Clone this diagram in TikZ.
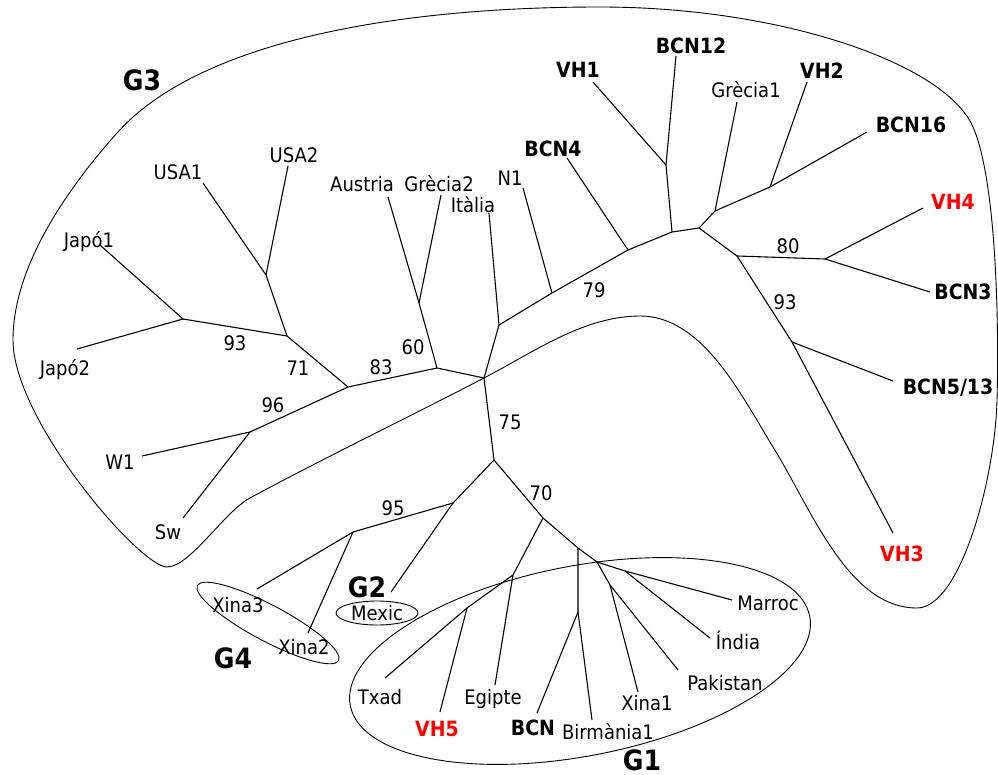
\documentclass[tikz,border=0pt]{standalone}
\usepackage{fontspec}
\setmainfont{DejaVu Sans Condensed}
\begin{document}
\begin{tikzpicture}[x=1pt,y=-1pt,
  br/.style={line width=1.1pt},
  hull/.style={line width=0.9pt},
  lab/.style={inner sep=0pt,font=\fontsize{20}{24}\selectfont,text height=14.5pt,text depth=0pt},
  blab/.style={inner sep=0pt,font=\fontsize{21}{25}\selectfont\bfseries,text height=15.3pt,text depth=0pt},
  rlab/.style={blab,text=red},
  glab/.style={inner sep=0pt,font=\fontsize{28}{32}\selectfont\bfseries,text height=20.4pt,text depth=0pt},
  num/.style={lab}]
\useasboundingbox (0,0) rectangle (998,775);
% ---- group outlines ----
\draw[hull] (484,378)
  .. controls (534,352) and (584,316) .. (640,316)
  .. controls (702,316) and (740,393) .. (773,447)
  .. controls (812,510) and (848,608) .. (917,608)
  .. controls (960,608) and (995,480) .. (997,400)
  .. controls (999,330) and (997,182) .. (973,127)
  .. controls (945,63) and (780,7) .. (600,7)
  .. controls (400,7) and (200,40) .. (117,133)
  .. controls (77,178) and (13,260) .. (13,340)
  .. controls (13,420) and (140,567) .. (167,567)
  .. controls (190,567) and (224,512) .. (250,498)
  .. controls (320,460) and (413,415) .. cycle;
\draw[hull,rotate around={11:(580,661)}] (580,661) ellipse [x radius=234,y radius=95];
\draw[hull,rotate around={-28:(268,623)}] (268,623) ellipse [x radius=80,y radius=18];
\draw[hull] (377,613) ellipse [x radius=41,y radius=12];
% ---- internal points and leaf ends ----
\coordinate (J) at (183,319); \coordinate (j1) at (100,245); \coordinate (j2) at (77,349);
\coordinate (US) at (266,275); \coordinate (u1) at (203,183); \coordinate (u2) at (288,166);
\coordinate (U) at (287,336); \coordinate (V) at (348,387);
\coordinate (M) at (250,432); \coordinate (w1) at (142,456); \coordinate (sw) at (183,518);
\coordinate (AG) at (419,303); \coordinate (A) at (437,368);
\coordinate (au) at (388,197); \coordinate (g2) at (441,195);
\coordinate (R) at (484,378);
\coordinate (IT) at (499,325); \coordinate (it) at (489,213);
\coordinate (P) at (552,293); \coordinate (n1) at (523,188);
\coordinate (Q) at (628,250); \coordinate (b4) at (567,158);
\coordinate (S) at (672,232); \coordinate (S2) at (666,165);
\coordinate (v1) at (593,82); \coordinate (b12) at (676,56);
\coordinate (T) at (699,228); \coordinate (U1) at (715,211); \coordinate (gr1) at (737,102);
\coordinate (W) at (770,187); \coordinate (v2) at (807,82); \coordinate (b16) at (867,132);
\coordinate (Y) at (737,256); \coordinate (Z) at (825,259);
\coordinate (v4) at (923,208); \coordinate (b3) at (930,292);
\coordinate (Z2) at (792,342); \coordinate (b5) at (893,381); \coordinate (v3) at (893,533);
\coordinate (B) at (494,460);
\coordinate (C) at (453,503); \coordinate (X) at (353,532);
\coordinate (x3) at (257,589); \coordinate (x2) at (308,633); \coordinate (mx) at (391,592);
\coordinate (D) at (543,518); \coordinate (E) at (513,575); \coordinate (H) at (467,608);
\coordinate (tx) at (385,678); \coordinate (v5) at (440,712); \coordinate (eg) at (495,685);
\coordinate (F) at (578,548); \coordinate (I) at (578,612);
\coordinate (bc) at (537,713); \coordinate (bi) at (592,720);
\coordinate (G) at (597,562); \coordinate (L) at (610,585);
\coordinate (x1) at (638,692); \coordinate (pk) at (678,670);
\coordinate (K) at (625,571); \coordinate (mr) at (732,600); \coordinate (in) at (710,638);
% ---- branches ----
\draw[br] (j1) -- (J) -- (j2);
\draw[br] (J) -- (U) -- (US) -- (u1);
\draw[br] (US) -- (u2);
\draw[br] (U) -- (V) -- (A) -- (R);
\draw[br] (V) -- (M) -- (w1);
\draw[br] (M) -- (sw);
\draw[br] (A) -- (AG) -- (au);
\draw[br] (AG) -- (g2);
\draw[br] (R) -- (IT) -- (it);
\draw[br] (IT) -- (P) -- (Q) -- (S) -- (T);
\draw[br] (P) -- (n1);
\draw[br] (Q) -- (b4);
\draw[br] (S) -- (S2) -- (v1);
\draw[br] (S2) -- (b12);
\draw[br] (T) -- (U1) -- (gr1);
\draw[br] (U1) -- (W) -- (v2);
\draw[br] (W) -- (b16);
\draw[br] (T) -- (Y) -- (Z) -- (v4);
\draw[br] (Z) -- (b3);
\draw[br] (Y) -- (Z2) -- (v3);
\draw[br] (Z2) -- (b5);
\draw[br] (R) -- (B) -- (C) -- (X) -- (x3);
\draw[br] (X) -- (x2);
\draw[br] (C) -- (mx);
\draw[br] (B) -- (D) -- (F) -- (G) -- (K) -- (mr);
\draw[br] (K) -- (in);
\draw[br] (G) -- (L) -- (x1);
\draw[br] (L) -- (pk);
\draw[br] (F) -- (I) -- (bc);
\draw[br] (I) -- (bi);
\draw[br] (D) -- (E) -- (eg);
\draw[br] (E) -- (H) -- (tx);
\draw[br] (H) -- (v5);
% ---- leaf labels ----
\node[lab] (Ljapo1) at (89,240) {Japó1};
\node[lab] (Ljapo2) at (65,368) {Japó2};
\node[lab] (Lusa1) at (178,172) {USA1};
\node[lab] (Lusa2) at (294,155) {USA2};
\node[lab] (Lw1) at (120,462) {W1};
\node[lab] (Lsw) at (168,532) {Sw};
\node[lab] (Laus) at (362,184) {Austria};
\node[lab] (Lgr2) at (439,184) {Grècia2};
\node[lab] (Lita) at (473,205) {Itàlia};
\node[lab] (Ln1) at (510,178) {N1};
\node[blab] (Lb4) at (553,149) {BCN4};
\node[blab] (Lv1) at (578,70) {VH1};
\node[blab] (Lb12) at (691,46) {BCN12};
\node[lab] (Lgr1) at (746,90) {Grècia1};
\node[blab] (Lv2) at (822,71) {VH2};
\node[blab] (Lb16) at (911,125) {BCN16};
\node[rlab] (Lv4) at (953,202) {VH4};
\node[blab] (Lb3) at (963,292) {BCN3};
\node[blab] (Lb5) at (948,387) {BCN5/13};
\node[rlab] (Lv3) at (902,554) {VH3};
\node[lab] (Lx3) at (238,605) {Xina3};
\node[lab] (Lx2) at (304,647) {Xina2};
\node[lab] (Lmx) at (377,613) {Mexic};
\node[lab] (Ltx) at (380,697) {Txad};
\node[rlab] (Lv5) at (437,729) {VH5};
\node[lab] (Leg) at (493,697) {Egipte};
\node[blab] (Lbc) at (533,728) {BCN};
\node[lab] (Lbi) at (608,732) {Birmània1};
\node[lab] (Lx1) at (647,703) {Xina1};
\node[lab] (Lpk) at (725,683) {Pakistan};
\node[lab] (Lin) at (738,642) {Índia};
\node[lab] (Lmr) at (768,603) {Marroc};
% ---- group labels ----
\node[glab] (G3) at (142,80) {G3};
\node[glab] (G2) at (367,587) {G2};
\node[glab] (G4) at (233,658) {G4};
\node[glab] (G1) at (642,760) {G1};
% ---- support values ----
\node[num] (n93a) at (235,343) {93};
\node[num] (n71) at (298,368) {71};
\node[num] (n96) at (273,405) {96};
\node[num] (n83) at (381,367) {83};
\node[num] (n60) at (413,347) {60};
\node[num] (n79) at (594,290) {79};
\node[num] (n75) at (510,422) {75};
\node[num] (n70) at (541,493) {70};
\node[num] (n95) at (393,508) {95};
\node[num] (n80) at (788,246) {80};
\node[num] (n93b) at (785,302) {93};
\end{tikzpicture}
\end{document}
